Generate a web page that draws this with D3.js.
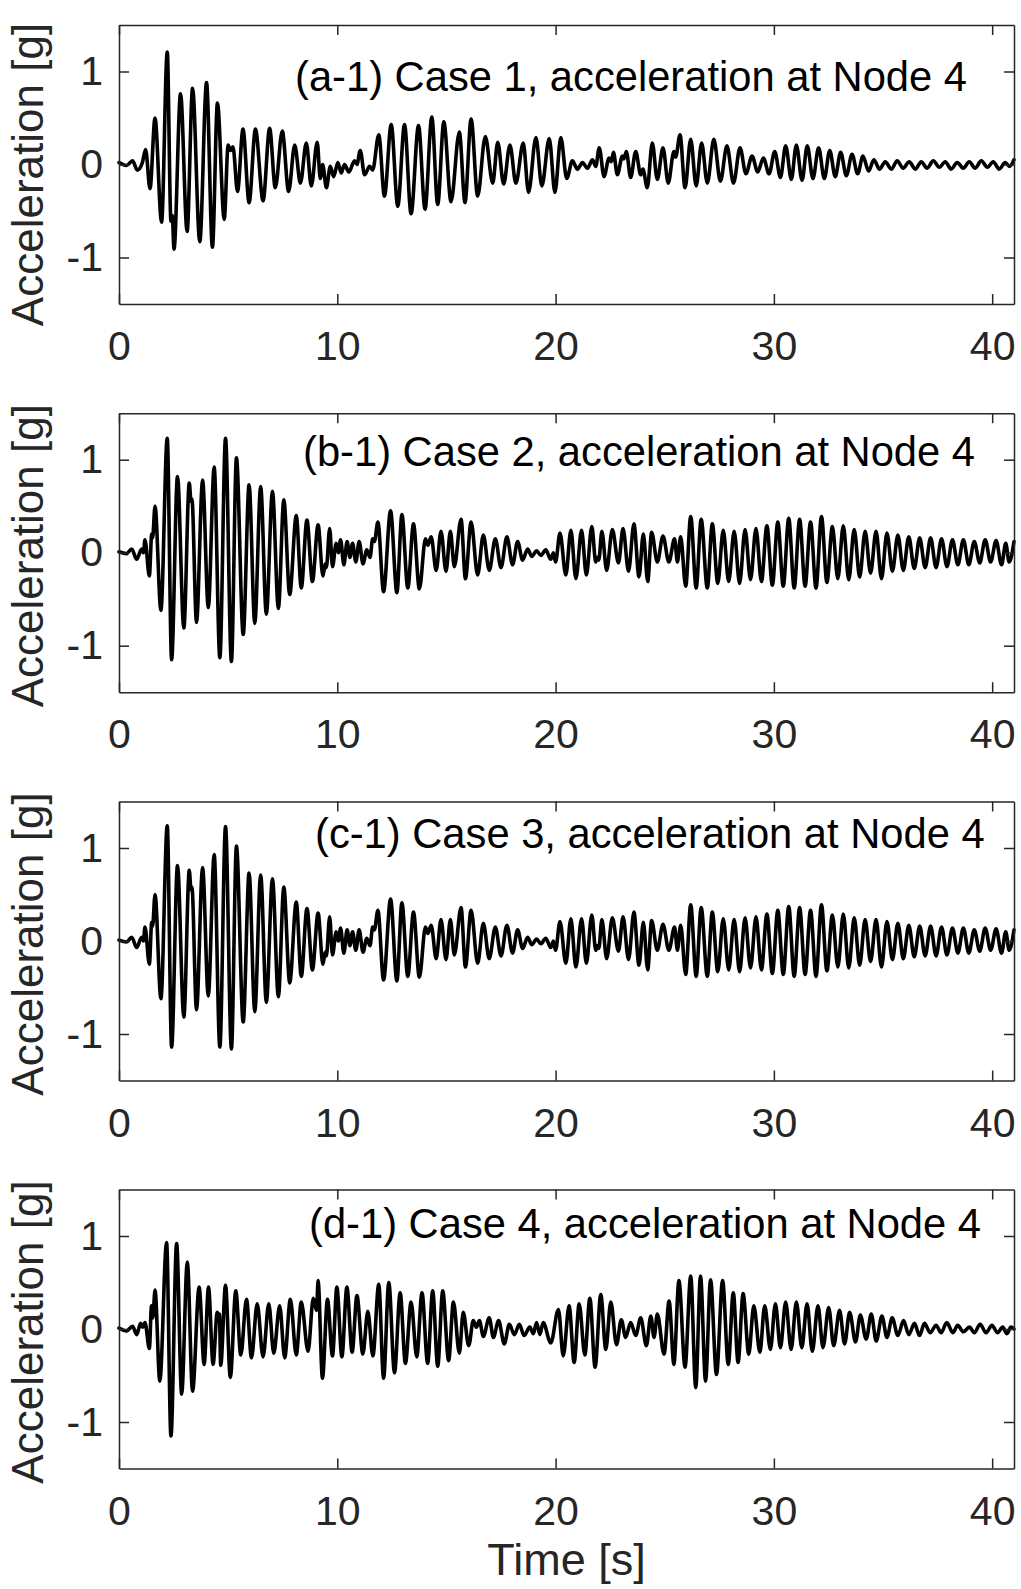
<!DOCTYPE html>
<html><head><meta charset="utf-8">
<script src="https://cdn.jsdelivr.net/npm/d3@7"></script>
<style>body{margin:0;background:#fff}svg{display:block}</style>
</head><body><svg id="c" width="1021" height="1589"></svg>
<script>
// [time (s), acceleration (g)] extrema
const case1 = [[0,0.02],[0.35,-0.01],[0.62,0.04],[0.84,-0.06],[1.07,0.02],[1.22,0.16],[1.42,-0.26],[1.65,0.50],[1.95,-0.62],[2.21,1.21],[2.38,-0.61],[2.44,-0.55],[2.52,-0.91],[2.82,0.76],[3.12,-0.72],[3.37,0.82],[3.70,-0.83],[4.01,0.88],[4.28,-0.89],[4.51,0.66],[4.82,-0.59],[5.00,0.21],[5.10,0.15],[5.22,0.19],[5.43,-0.29],[5.68,0.38],[5.96,-0.41],[6.25,0.38],[6.60,-0.39],[6.90,0.39],[7.16,-0.25],[7.48,0.36],[7.77,-0.29],[8.05,0.21],[8.31,-0.20],[8.58,0.23],[8.81,-0.23],[9.08,0.24],[9.22,-0.15],[9.33,0.0],[9.50,-0.25],[9.68,-0.02],[9.83,-0.13],[10.03,0.02],[10.18,-0.09],[10.33,0.0],[10.53,-0.08],[10.79,0.04],[10.90,0.0],[11.05,0.15],[11.25,-0.11],[11.48,-0.02],[11.62,-0.06],[11.90,0.32],[12.16,-0.34],[12.47,0.43],[12.77,-0.45],[13.08,0.43],[13.38,-0.53],[13.72,0.42],[14.02,-0.48],[14.33,0.51],[14.60,-0.43],[14.88,0.46],[15.21,-0.40],[15.59,0.35],[15.85,-0.41],[16.13,0.49],[16.43,-0.34],[16.78,0.30],[17.12,-0.20],[17.35,0.24],[17.62,-0.21],[17.91,0.21],[18.18,-0.20],[18.52,0.23],[18.76,-0.30],[19.10,0.29],[19.37,-0.23],[19.71,0.28],[19.97,-0.30],[20.24,0.29],[20.51,-0.15],[20.77,0.04],[21.00,-0.05],[21.23,0.02],[21.46,-0.04],[21.69,0.05],[21.84,-0.02],[22.00,0.18],[22.22,-0.13],[22.45,0.07],[22.55,0.03],[22.65,0.13],[22.83,-0.11],[23.06,0.09],[23.13,0.06],[23.24,0.14],[23.44,-0.14],[23.67,0.14],[23.90,-0.11],[24.00,-0.05],[24.20,-0.25],[24.43,0.23],[24.66,-0.16],[24.92,0.18],[25.16,-0.20],[25.42,0.14],[25.50,0.08],[25.70,0.32],[25.93,-0.25],[26.19,0.27],[26.44,-0.23],[26.69,0.23],[26.95,-0.20],[27.25,0.27],[27.55,-0.18],[27.85,0.20],[28.15,-0.20],[28.45,0.18],[28.72,-0.10],[29.00,0.09],[29.26,-0.08],[29.52,0.07],[29.78,-0.10],[30.04,0.14],[30.30,-0.14],[30.54,0.20],[30.80,-0.16],[31.03,0.21],[31.29,-0.17],[31.53,0.20],[31.79,-0.15],[32.05,0.18],[32.31,-0.15],[32.56,0.15],[32.81,-0.13],[33.06,0.13],[33.32,-0.12],[33.58,0.11],[33.84,-0.10],[34.08,0.09],[34.34,-0.07],[34.58,0.05],[34.84,-0.05],[35.10,0.03],[35.38,-0.05],[35.65,0.04],[35.92,-0.04],[36.20,0.03],[36.48,-0.05],[36.75,0.03],[37.02,-0.04],[37.30,0.04],[37.58,-0.03],[37.85,0.03],[38.12,-0.05],[38.40,0.02],[38.68,-0.04],[38.95,0.03],[39.22,-0.04],[39.50,0.04],[39.78,-0.03],[40.05,0.03],[40.32,-0.05],[40.60,0.02],[40.80,-0.02],[41,0.05]];

const case2 = [[0,0.01],[0.35,-0.01],[0.58,0.04],[0.81,-0.07],[1.04,0.04],[1.12,0.0],[1.19,0.14],[1.39,-0.25],[1.50,0.20],[1.54,0.16],[1.65,0.50],[1.92,-0.62],[2.21,1.23],[2.41,-1.15],[2.68,0.82],[2.97,-0.81],[3.22,0.75],[3.30,0.55],[3.34,0.58],[3.55,-0.75],[3.83,0.78],[4.09,-0.59],[4.36,0.92],[4.62,-1.13],[4.88,1.23],[5.15,-1.17],[5.38,1.02],[5.69,-0.88],[5.96,0.73],[6.22,-0.76],[6.49,0.71],[6.75,-0.66],[7.03,0.66],[7.30,-0.60],[7.55,0.57],[7.82,-0.45],[8.12,0.40],[8.35,-0.38],[8.61,0.35],[8.86,-0.31],[9.12,0.30],[9.34,-0.25],[9.45,-0.12],[9.50,-0.16],[9.65,0.26],[9.78,-0.15],[9.95,0.10],[10.05,0.0],[10.15,0.14],[10.30,-0.13],[10.45,0.12],[10.58,-0.05],[10.70,0.10],[10.85,-0.10],[11.00,0.12],[11.18,-0.12],[11.35,0.03],[11.50,-0.05],[11.62,0.15],[11.70,0.12],[11.86,0.33],[12.12,-0.42],[12.44,0.45],[12.73,-0.43],[12.96,0.41],[13.23,-0.38],[13.49,0.31],[13.76,-0.39],[14.04,0.15],[14.15,0.08],[14.30,0.17],[14.53,-0.19],[14.75,0.23],[14.98,-0.20],[15.18,0.23],[15.36,-0.15],[15.67,0.36],[15.87,-0.28],[16.13,0.33],[16.43,-0.24],[16.69,0.19],[16.96,-0.19],[17.24,0.15],[17.50,-0.16],[17.77,0.17],[18.03,-0.13],[18.26,0.12],[18.49,-0.08],[18.72,0.04],[18.91,-0.04],[19.13,0.02],[19.33,-0.03],[19.55,0.03],[19.78,-0.07],[19.90,0.0],[20.00,-0.10],[20.20,0.21],[20.47,-0.24],[20.70,0.24],[20.93,-0.28],[21.19,0.24],[21.41,-0.24],[21.66,0.28],[21.84,-0.10],[21.92,-0.05],[21.98,-0.08],[22.12,0.23],[22.34,-0.19],[22.60,0.25],[22.88,-0.11],[23.09,0.26],[23.34,-0.20],[23.59,0.31],[23.82,-0.26],[24.02,0.20],[24.22,-0.31],[24.40,0.22],[24.66,-0.10],[24.92,0.18],[25.19,-0.10],[25.45,0.15],[25.58,-0.10],[25.73,0.17],[25.96,-0.36],[26.19,0.39],[26.44,-0.38],[26.67,0.36],[26.95,-0.38],[27.18,0.31],[27.43,-0.33],[27.68,0.24],[27.93,-0.31],[28.18,0.23],[28.43,-0.33],[28.68,0.25],[28.93,-0.29],[29.18,0.26],[29.43,-0.31],[29.68,0.29],[29.93,-0.35],[30.18,0.33],[30.43,-0.36],[30.68,0.37],[30.93,-0.38],[31.18,0.36],[31.43,-0.36],[31.68,0.33],[31.93,-0.38],[32.18,0.39],[32.43,-0.32],[32.68,0.28],[32.93,-0.28],[33.18,0.29],[33.43,-0.29],[33.68,0.25],[33.93,-0.26],[34.18,0.23],[34.43,-0.22],[34.68,0.23],[34.93,-0.28],[35.18,0.21],[35.43,-0.20],[35.68,0.19],[35.93,-0.19],[36.18,0.17],[36.43,-0.17],[36.68,0.16],[36.93,-0.16],[37.18,0.16],[37.43,-0.16],[37.68,0.15],[37.93,-0.15],[38.18,0.14],[38.43,-0.13],[38.68,0.14],[38.93,-0.13],[39.18,0.12],[39.43,-0.11],[39.68,0.14],[39.93,-0.10],[40.18,0.13],[40.43,-0.13],[40.62,0.10],[40.78,-0.10],[41,0.12]];

const case3 = [[0,0.01],[0.35,-0.01],[0.58,0.04],[0.81,-0.07],[1.04,0.04],[1.12,0.0],[1.19,0.15],[1.39,-0.25],[1.50,0.20],[1.54,0.16],[1.65,0.50],[1.92,-0.62],[2.21,1.24],[2.41,-1.14],[2.68,0.81],[2.97,-0.82],[3.22,0.76],[3.30,0.55],[3.34,0.58],[3.55,-0.74],[3.83,0.79],[4.09,-0.59],[4.36,0.93],[4.62,-1.14],[4.88,1.23],[5.15,-1.16],[5.38,1.02],[5.69,-0.87],[5.96,0.73],[6.22,-0.76],[6.49,0.71],[6.75,-0.66],[7.03,0.67],[7.30,-0.60],[7.55,0.58],[7.82,-0.45],[8.12,0.42],[8.35,-0.38],[8.61,0.35],[8.86,-0.31],[9.12,0.30],[9.34,-0.25],[9.45,-0.12],[9.50,-0.16],[9.65,0.26],[9.78,-0.15],[9.95,0.10],[10.05,0.0],[10.15,0.14],[10.30,-0.13],[10.45,0.12],[10.58,-0.05],[10.70,0.10],[10.85,-0.10],[11.00,0.12],[11.18,-0.12],[11.35,0.03],[11.50,-0.05],[11.62,0.15],[11.70,0.12],[11.86,0.33],[12.12,-0.42],[12.44,0.45],[12.73,-0.43],[12.96,0.41],[13.23,-0.38],[13.49,0.31],[13.76,-0.39],[14.04,0.15],[14.15,0.08],[14.30,0.17],[14.53,-0.19],[14.75,0.23],[14.98,-0.20],[15.18,0.23],[15.36,-0.15],[15.67,0.36],[15.87,-0.28],[16.13,0.33],[16.43,-0.24],[16.69,0.19],[16.96,-0.19],[17.24,0.15],[17.50,-0.16],[17.77,0.17],[18.03,-0.13],[18.26,0.12],[18.49,-0.08],[18.72,0.04],[18.91,-0.04],[19.13,0.02],[19.33,-0.03],[19.55,0.03],[19.78,-0.07],[19.90,0.0],[20.00,-0.10],[20.20,0.21],[20.47,-0.24],[20.70,0.24],[20.93,-0.28],[21.19,0.24],[21.41,-0.24],[21.66,0.28],[21.84,-0.10],[21.92,-0.05],[21.98,-0.08],[22.12,0.23],[22.34,-0.19],[22.60,0.25],[22.88,-0.11],[23.09,0.26],[23.34,-0.20],[23.59,0.31],[23.82,-0.26],[24.02,0.20],[24.22,-0.31],[24.40,0.22],[24.66,-0.10],[24.92,0.18],[25.19,-0.10],[25.45,0.15],[25.58,-0.10],[25.73,0.17],[25.96,-0.36],[26.19,0.39],[26.44,-0.38],[26.67,0.36],[26.95,-0.38],[27.18,0.31],[27.43,-0.33],[27.68,0.24],[27.93,-0.31],[28.18,0.23],[28.43,-0.33],[28.68,0.25],[28.93,-0.29],[29.18,0.26],[29.43,-0.31],[29.68,0.29],[29.93,-0.35],[30.18,0.33],[30.43,-0.36],[30.68,0.37],[30.93,-0.38],[31.18,0.36],[31.43,-0.36],[31.68,0.33],[31.93,-0.38],[32.18,0.39],[32.43,-0.32],[32.68,0.28],[32.93,-0.28],[33.18,0.29],[33.43,-0.29],[33.68,0.25],[33.93,-0.26],[34.18,0.23],[34.43,-0.22],[34.68,0.23],[34.93,-0.28],[35.18,0.21],[35.43,-0.20],[35.68,0.19],[35.93,-0.19],[36.18,0.17],[36.43,-0.17],[36.68,0.16],[36.93,-0.16],[37.18,0.16],[37.43,-0.16],[37.68,0.15],[37.93,-0.15],[38.18,0.14],[38.43,-0.13],[38.68,0.14],[38.93,-0.13],[39.18,0.12],[39.43,-0.11],[39.68,0.14],[39.93,-0.10],[40.18,0.13],[40.43,-0.13],[40.62,0.10],[40.78,-0.10],[41,0.12]];

const case4 = [[0,0.01],[0.35,-0.02],[0.62,0.03],[0.81,-0.06],[0.99,0.06],[1.08,0.02],[1.19,0.07],[1.39,-0.21],[1.49,0.25],[1.55,0.12],[1.65,0.42],[1.87,-0.56],[2.18,0.93],[2.38,-1.15],[2.64,0.92],[2.87,-0.70],[3.13,0.72],[3.37,-0.67],[3.67,0.45],[3.90,-0.38],[4.10,0.45],[4.31,-0.38],[4.50,0.18],[4.56,0.14],[4.60,0.16],[4.66,-0.39],[4.88,0.47],[5.10,-0.52],[5.35,0.41],[5.58,-0.28],[5.84,0.32],[6.07,-0.31],[6.33,0.27],[6.60,-0.30],[6.86,0.27],[7.09,-0.26],[7.36,0.25],[7.59,-0.31],[7.85,0.32],[8.12,-0.28],[8.35,0.29],[8.66,-0.24],[8.90,0.33],[9.05,0.20],[9.12,0.52],[9.32,-0.53],[9.55,0.32],[9.78,-0.29],[9.98,0.45],[10.21,-0.30],[10.44,0.45],[10.68,-0.25],[10.90,0.36],[11.17,-0.27],[11.40,0.19],[11.63,-0.29],[11.90,0.48],[12.12,-0.53],[12.36,0.50],[12.62,-0.47],[12.88,0.39],[13.12,-0.37],[13.38,0.29],[13.64,-0.30],[13.88,0.39],[14.14,-0.37],[14.37,0.41],[14.60,-0.40],[14.83,0.41],[15.10,-0.34],[15.32,0.29],[15.59,-0.26],[15.77,0.18],[16.02,-0.18],[16.23,0.09],[16.37,0.02],[16.51,0.09],[16.69,-0.08],[16.96,0.12],[17.15,-0.09],[17.39,0.09],[17.65,-0.16],[17.88,0.05],[18.11,-0.06],[18.34,0.05],[18.56,-0.07],[18.82,0.02],[18.98,-0.05],[19.13,0.07],[19.28,-0.06],[19.43,0.07],[19.78,-0.15],[20.13,0.21],[20.35,-0.29],[20.62,0.25],[20.85,-0.36],[21.08,0.27],[21.34,-0.28],[21.57,0.33],[21.81,-0.41],[22.07,0.37],[22.30,-0.22],[22.53,0.29],[22.79,-0.17],[23.01,0.10],[23.21,-0.09],[23.44,0.07],[23.67,-0.07],[23.90,0.12],[24.16,-0.18],[24.36,0.14],[24.51,-0.09],[24.66,0.16],[24.97,-0.27],[25.20,0.30],[25.42,-0.38],[25.65,0.52],[25.93,-0.41],[26.19,0.57],[26.42,-0.63],[26.64,0.57],[26.87,-0.56],[27.10,0.53],[27.37,-0.49],[27.65,0.52],[27.91,-0.38],[28.14,0.39],[28.36,-0.36],[28.59,0.38],[28.85,-0.27],[29.08,0.25],[29.36,-0.25],[29.58,0.25],[29.84,-0.22],[30.07,0.27],[30.30,-0.20],[30.54,0.29],[30.79,-0.22],[31.03,0.29],[31.28,-0.20],[31.52,0.27],[31.76,-0.24],[32.02,0.25],[32.25,-0.20],[32.51,0.23],[32.74,-0.18],[33.01,0.20],[33.24,-0.16],[33.47,0.18],[33.74,-0.14],[33.96,0.15],[34.23,-0.11],[34.46,0.16],[34.69,-0.13],[34.95,0.14],[35.18,-0.09],[35.42,0.12],[35.68,-0.07],[35.94,0.09],[36.18,-0.06],[36.44,0.06],[36.67,-0.07],[36.90,0.06],[37.16,-0.04],[37.43,0.04],[37.66,-0.04],[37.92,0.07],[38.20,-0.04],[38.42,0.04],[38.68,-0.03],[38.96,0.02],[39.18,-0.04],[39.45,0.05],[39.72,-0.04],[39.99,0.04],[40.25,-0.04],[40.48,0.02],[40.68,-0.05],[40.86,0.02],[41,0.0]];

const titles = ["(a-1) Case 1, acceleration at Node 4","(b-1) Case 2, acceleration at Node 4","(c-1) Case 3, acceleration at Node 4","(d-1) Case 4, acceleration at Node 4"];
const xTicks = [0,10,20,30,40];
const yTicks = [-1,0,1];
const xDomain = [0,41];
const yDomain = [-1.5,1.5];
const yLabel = "Acceleration [g]";
const xLabel = "Time [s]";

const svg = d3.select("#c");
const font = '"Liberation Sans", Arial, Helvetica, sans-serif';
const L = 119, R = 1014, PH = 279;
const tops = [25, 413.2, 801.5, 1189.5];
const titleX = [295, 303, 315, 309];
const titleDY = [66, 53, 46, 48];
const ylabShift = [10, 3, 3, 3];
const axCol = "#262626";
const x = d3.scaleLinear().domain(xDomain).range([L, R]);
const series = [case1, case2, case3, case4];

function styleAxis(sel){
  sel.selectAll("path,line").attr("stroke", axCol).attr("stroke-width", 1.5);
  sel.selectAll("text").attr("fill", axCol).style("font-family", font).style("font-size", "41px");
}

series.forEach((data, i) => {
  const top = tops[i], bot = top + PH;
  const y = d3.scaleLinear().domain(yDomain).range([bot, top]);
  const g = svg.append("g");
  g.append("path").datum(data)
    .attr("fill", "none").attr("stroke", "#000").attr("stroke-width", 3.6)
    .attr("stroke-linejoin", "round").attr("stroke-linecap", "round")
    .attr("d", d3.line().x(d => x(d[0])).y(d => y(d[1])).curve(d3.curveMonotoneX));

  g.append("g").attr("transform", `translate(0,${bot})`)
    .call(d3.axisBottom(x).tickValues(xTicks).tickSizeInner(-10).tickSizeOuter(0).tickPadding(27).tickFormat(d => String(d)))
    .call(styleAxis);
  g.append("g").attr("transform", `translate(0,${top})`)
    .call(d3.axisTop(x).tickValues(xTicks).tickSizeInner(-10).tickSizeOuter(0).tickFormat(""))
    .call(styleAxis);
  g.append("g").attr("transform", `translate(${L},0)`)
    .call(d3.axisLeft(y).tickValues(yTicks).tickSizeInner(-10).tickSizeOuter(0).tickPadding(16).tickFormat(d => String(d)))
    .call(styleAxis);
  g.append("g").attr("transform", `translate(${R},0)`)
    .call(d3.axisRight(y).tickValues(yTicks).tickSizeInner(-10).tickSizeOuter(0).tickFormat(""))
    .call(styleAxis);

  g.append("text").attr("x", titleX[i]).attr("y", top + titleDY[i])
    .style("font-family", font).style("font-size", "41.7px").attr("fill", "#000")
    .text(titles[i]);

  g.append("text").attr("transform", `translate(43,${(top + bot) / 2 + ylabShift[i]}) rotate(-90)`)
    .attr("text-anchor", "middle").style("font-family", font).style("font-size", "44px")
    .attr("fill", axCol).text(yLabel);
});

svg.append("text").attr("x", (L + R) / 2).attr("y", 1575).attr("text-anchor", "middle")
  .style("font-family", font).style("font-size", "45px").attr("fill", axCol).text(xLabel);
</script>
</body></html>
